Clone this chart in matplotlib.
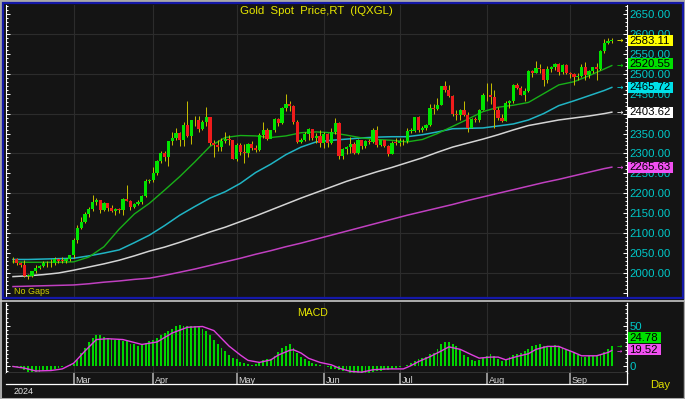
import numpy as np
import pandas as pd
import matplotlib
matplotlib.use("Agg")
import matplotlib.pyplot as plt
import matplotlib.transforms as mtrans
from matplotlib.lines import Line2D
from matplotlib.patches import Rectangle
from matplotlib.ticker import FixedLocator, MultipleLocator, FuncFormatter, NullFormatter

W, H = 685, 399
plt.rcParams['font.family'] = ['Liberation Sans', 'DejaVu Sans']

# trading days, weekends removed ("No Gaps")
dates = pd.bdate_range('2024-02-08', '2024-09-17')

first_open = 2035
closes = [2034, 2024, 2020, 1992, 1992, 2004, 2013, 2018, 2024, 2026, 2024, 2035, 2031, 2030, 2034, 2044,
          2083, 2114, 2128, 2148, 2160, 2178, 2182, 2158, 2175, 2162, 2155, 2160, 2157, 2186, 2181, 2165,
          2172, 2178, 2194, 2230, 2233, 2250, 2280, 2300, 2290, 2330, 2339, 2352, 2333, 2372, 2344, 2383,
          2383, 2361, 2379, 2392, 2327, 2322, 2316, 2332, 2337, 2335, 2286, 2320, 2303, 2301, 2323, 2314,
          2309, 2346, 2360, 2336, 2358, 2386, 2376, 2414, 2425, 2420, 2379, 2329, 2334, 2350, 2361, 2338,
          2343, 2327, 2350, 2327, 2355, 2376, 2294, 2310, 2316, 2324, 2302, 2333, 2319, 2330, 2328, 2360,
          2322, 2334, 2319, 2298, 2327, 2326, 2332, 2330, 2356, 2356, 2392, 2359, 2364, 2371, 2415, 2411,
          2422, 2469, 2459, 2445, 2400, 2396, 2409, 2397, 2364, 2387, 2384, 2410, 2447, 2446, 2442, 2410,
          2390, 2382, 2427, 2431, 2472, 2465, 2447, 2456, 2507, 2503, 2514, 2512, 2485, 2512, 2518, 2525,
          2504, 2521, 2503, 2499, 2493, 2495, 2516, 2497, 2506, 2516, 2512, 2558, 2578, 2582, 2583.11]
highs = [2040, 2038, 2027, 2032, 1998, 2006, 2021, 2021, 2031, 2030, 2035, 2041, 2038, 2040, 2038, 2046,
         2088, 2120, 2141, 2153, 2165, 2195, 2189, 2184, 2177, 2174, 2170, 2164, 2163, 2187, 2222, 2183,
         2176, 2184, 2196, 2236, 2236, 2266, 2283, 2305, 2305, 2331, 2354, 2365, 2355, 2378, 2431, 2384,
         2393, 2393, 2385, 2417, 2392, 2335, 2334, 2338, 2353, 2346, 2335, 2326, 2326, 2323, 2326, 2331,
         2320, 2351, 2378, 2364, 2360, 2390, 2388, 2417, 2450, 2432, 2422, 2384, 2339, 2355, 2364, 2361,
         2351, 2360, 2354, 2351, 2364, 2388, 2379, 2314, 2318, 2342, 2328, 2336, 2334, 2333, 2337, 2365,
         2369, 2335, 2335, 2321, 2330, 2339, 2339, 2337, 2364, 2363, 2392, 2393, 2368, 2373, 2424, 2424,
         2440, 2470, 2483, 2471, 2446, 2408, 2412, 2431, 2404, 2390, 2392, 2412, 2451, 2477, 2477, 2460,
         2417, 2400, 2431, 2434, 2475, 2477, 2468, 2463, 2509, 2510, 2531, 2525, 2510, 2519, 2520, 2528,
         2526, 2525, 2524, 2505, 2502, 2503, 2524, 2529, 2509, 2518, 2528, 2560, 2586, 2590, 2589]
lows = [2025, 2021, 2016, 1990, 1984, 1989, 1999, 2011, 2016, 2016, 2015, 2021, 2026, 2025, 2024, 2030,
        2038, 2076, 2110, 2125, 2140, 2155, 2171, 2150, 2156, 2155, 2154, 2146, 2150, 2146, 2180, 2157,
        2162, 2170, 2173, 2191, 2227, 2229, 2245, 2277, 2282, 2268, 2321, 2334, 2319, 2319, 2342, 2324,
        2369, 2355, 2358, 2368, 2321, 2291, 2307, 2305, 2325, 2322, 2285, 2281, 2295, 2277, 2292, 2309,
        2303, 2306, 2339, 2334, 2338, 2353, 2370, 2374, 2406, 2407, 2374, 2325, 2326, 2330, 2335, 2334,
        2326, 2316, 2314, 2315, 2323, 2349, 2287, 2286, 2298, 2302, 2299, 2299, 2311, 2313, 2323, 2327,
        2317, 2318, 2316, 2293, 2298, 2320, 2318, 2320, 2326, 2351, 2353, 2353, 2353, 2359, 2369, 2398,
        2409, 2421, 2455, 2441, 2393, 2384, 2385, 2394, 2353, 2364, 2379, 2380, 2409, 2432, 2425, 2364,
        2385, 2380, 2381, 2415, 2427, 2462, 2446, 2431, 2455, 2492, 2502, 2502, 2470, 2478, 2505, 2510,
        2497, 2500, 2500, 2490, 2472, 2484, 2493, 2485, 2490, 2501, 2485, 2510, 2553, 2574, 2577]

# moving averages, every 4th bar
ma_idx = list(range(0, 157, 4)) + [158]
ma20 = [2028, 2027, 2027, 2027, 2028, 2040, 2066, 2110, 2148, 2175, 2208, 2242, 2279, 2318, 2340, 2345,
        2344, 2340, 2344, 2352, 2354, 2352, 2346, 2339, 2335, 2333, 2329, 2335, 2350, 2368, 2386, 2405,
        2416, 2421, 2428, 2450, 2472, 2480, 2495, 2512, 2520.55]
ma50 = [2034, 2034, 2035, 2036, 2037, 2043, 2050, 2058, 2076, 2095, 2119, 2145, 2167, 2188, 2204, 2225,
        2252, 2273, 2297, 2316, 2329, 2333, 2336, 2339, 2341, 2342, 2342, 2347, 2354, 2362, 2363, 2364,
        2369, 2374, 2384, 2400, 2420, 2432, 2445, 2458, 2465.72]
ma100 = [1991, 1993, 1996, 2000, 2007, 2015, 2023, 2032, 2043, 2055, 2065, 2077, 2090, 2103, 2115, 2129,
         2143, 2158, 2173, 2188, 2202, 2216, 2230, 2242, 2254, 2265, 2277, 2289, 2303, 2316, 2326, 2336,
         2347, 2359, 2370, 2377, 2384, 2389, 2394, 2400, 2403.62]
ma200 = [1966, 1967, 1968, 1969, 1970, 1973, 1977, 1980, 1984, 1987, 1994, 2002, 2010, 2019, 2028, 2037,
         2047, 2056, 2066, 2075, 2085, 2095, 2105, 2115, 2125, 2135, 2145, 2154, 2163, 2172, 2182, 2191,
         2200, 2209, 2218, 2227, 2235, 2244, 2253, 2262, 2265.63]

macd = [-0.5, -1, -2, -4, -6.5, -7, -7, -6.5, -6, -5, -4, -3, -1.5, -0.5, 0.5, 1.5,
        3, 8, 17, 23, 30, 35, 39, 38, 36, 35, 34, 33, 32, 31, 31, 27,
        28, 25, 26.5, 29, 31, 32, 35, 38, 41, 44, 46, 50, 51, 50, 49, 49,
        49, 49, 46, 43, 38, 33, 27, 23, 19.5, 14, 10, 9, 5, 4, 3, 2,
        3, 5.5, 7.5, 9, 9.5, 13, 18, 22.5, 25, 27, 22.5, 16, 11.5, 9, 7, 4.5,
        3, 2, 1, -1, -2.5, -3.5, -4.5, -6, -6, -7.4, -7.4, -7.4, -7.4, -7.4, -7.4, -7,
        -6, -5.5, -4.8, -3.8, -2.8, -1.8, -0.3, 0.8, 2, 4.5, 7, 9.5, 10, 11.5, 15, 17,
        21.5, 27, 30.5, 30.5, 27.5, 24.5, 21, 14, 11, 7.5, 7, 7.5, 10, 13, 15.5, 13,
        9, 7, 7.5, 11.5, 14, 15.6, 16, 18.5, 21.5, 24.5, 26.5, 28, 25.5, 25.5, 25.5, 26.5,
        24.5, 23, 21, 19, 16.4, 14.4, 12, 11.5, 13, 12.5, 13, 15, 17.5, 21, 24.78]
sig_idx = [0, 3, 6, 10, 13, 16, 19, 22, 25, 29, 34, 38, 42, 46, 50, 53, 57, 60, 62, 65, 68, 70, 73, 74,
           76, 78, 81, 84, 86, 89, 92, 95, 99, 103, 105, 107, 110, 113, 115, 118, 121, 123, 126, 128,
           130, 133, 136, 138, 141, 144, 145, 148, 150, 154, 157, 158]
sig_val = [0, -2, -5.5, -5, -3, 4, 19, 33, 34, 33, 27, 30, 41, 48, 49, 44, 25, 14, 7.5, 5, 8, 14, 19.8, 20.5,
           16.5, 10, 5, 2, -2, -6, -7, -4, -3, -3, 1, 6, 12, 19, 24, 21, 14.4, 10.2, 11.5, 11.5,
           8.2, 12.3, 15.6, 21, 24.6, 24.6, 22.6, 17.2, 13.1, 13.1, 17.2, 19.52]

BG = '#141414'
GRID = '#2c2c2c'
CYAN_TXT = '#00c8c8'
YEL = '#e8e800'


def fx(px):
    return px / W


def fy(py):
    return 1 - py / H


fig = plt.figure(figsize=(W / 100, H / 100), dpi=100, facecolor=BG)

x = np.arange(len(closes))
c = np.array(closes, dtype=float)
o = np.r_[first_open, c[:-1]]
up = c >= o
body = np.maximum(np.abs(c - o), 1.8)

month_pos = [i for i in range(1, len(dates)) if dates[i].month != dates[i - 1].month]
month_lab = [dates[i].strftime('%b') for i in month_pos]

bar_px = 3.79
x_lo = -(13 - 6) / bar_px
x_hi = (626.7 - 13) / bar_px

# ---------------- price panel
ax = fig.add_axes([fx(6), fy(297), (626.7 - 6) / W, 292 / H], facecolor=BG)
ylo, yhi = 1939.8, 2672.5
ax.set_xlim(x_lo, x_hi)
ax.set_ylim(ylo, yhi)
for v in range(2000, 2700, 100):
    ax.axhline(v, color=GRID, lw=0.8, zorder=0)
for m in month_pos:
    ax.axvline(m, color=GRID, lw=0.8, zorder=0)

ax.plot(ma_idx, ma200, color='#c040c0', lw=1.1, zorder=2)
ax.plot(ma_idx, ma100, color='#d4d4d4', lw=1.1, zorder=2)
ax.plot(ma_idx, ma50, color='#20b4c4', lw=1.1, zorder=2)
ax.plot(ma_idx, ma20, color='#18b018', lw=1.0, zorder=2)

ax.vlines(x, lows, highs, color='#c8c000', lw=0.7, zorder=3)
ax.bar(x[up], body[up], bottom=o[up], width=0.86, color='#00e400', zorder=4)
ax.bar(x[~up], body[~up], bottom=c[~up], width=0.86, color='#f01c1c', zorder=4)

for s in ['top', 'bottom']:
    ax.spines[s].set_visible(False)
for s in ['left', 'right']:
    ax.spines[s].set_color('white')
    ax.spines[s].set_linewidth(0.8)
ax.set_xticks([])
ax.yaxis.set_major_locator(FixedLocator(list(range(1950, 2700, 50))))
ax.yaxis.set_minor_locator(MultipleLocator(10))
# 2400.00 sits fully under the 100-day badge in the reference
ax.yaxis.set_major_formatter(FuncFormatter(lambda v, p: f'{v:.2f}' if v >= 2000 and v != 2400 else ''))
ax.yaxis.set_minor_formatter(NullFormatter())
ax.tick_params(axis='y', which='both', direction='in', left=True, right=True,
               labelleft=False, labelright=True, colors='white', width=0.7)
ax.tick_params(axis='y', which='major', length=3, pad=1.9, labelcolor=CYAN_TXT, labelsize=8.2)
ax.tick_params(axis='y', which='minor', length=1.5)

# ---------------- MACD panel
ax2 = fig.add_axes([fx(6), fy(373), (626.7 - 6) / W, 70 / H], facecolor=BG)
ax2.set_xlim(x_lo, x_hi)
ax2.set_ylim(-8, 77.8)
ax2.axhline(40, color=GRID, lw=0.8, zorder=0)
for m in month_pos:
    ax2.axvline(m, color=GRID, lw=0.8, zorder=0)
ax2.bar(x, macd, width=0.5, color='#00d400', zorder=3)
ax2.plot(sig_idx, sig_val, color='#e040e0', lw=1.0, zorder=4)
ax2.spines['top'].set_visible(False)
for s in ['left', 'right', 'bottom']:
    ax2.spines[s].set_color('white')
    ax2.spines[s].set_linewidth(0.9)
ax2.set_xticks([])
ax2.yaxis.set_major_locator(FixedLocator([0, 50]))
ax2.yaxis.set_minor_locator(MultipleLocator(5))
ax2.yaxis.set_minor_formatter(NullFormatter())
ax2.yaxis.set_major_formatter(FuncFormatter(lambda v, p: f'{v:.0f}'))
ax2.tick_params(axis='y', which='both', direction='in', left=True, right=True,
                labelleft=False, labelright=True, colors='white', width=0.7)
ax2.tick_params(axis='y', which='major', length=3, pad=1.9, labelcolor=CYAN_TXT, labelsize=8.2)
ax2.tick_params(axis='y', which='minor', length=1.5)
fig.text(fx(313), fy(316), 'MACD', color=YEL, fontsize=7.6, ha='center', va='baseline')

# ---------------- date band
ax3 = fig.add_axes([fx(6), fy(384), (626.7 - 6) / W, 11 / H], facecolor=BG)
ax3.set_xlim(x_lo, x_hi)
ax3.set_ylim(0, 1)
ax3.set_xticks([])
ax3.set_yticks([])
for s in ['top', 'left']:
    ax3.spines[s].set_visible(False)
for s in ['bottom', 'right']:
    ax3.spines[s].set_color('white')
    ax3.spines[s].set_linewidth(0.9)
for m, lab in zip(month_pos, month_lab):
    ax3.axvline(m, color='#a8a8a8', lw=1.2)
    ax3.text(m + 0.5, 0.08, lab, color='#d8d8d8', fontsize=6.5, ha='left', va='baseline', clip_on=True)

fig.text(fx(14), fy(394), '2024', color='#e0e0e0', fontsize=6.5, ha='left', va='baseline')
fig.text(fx(650), fy(387.5), 'Day', color='#e0e000', fontsize=8.1, ha='left', va='baseline')
fig.text(fx(14), fy(293.5), 'No Gaps', color='#d0d000', fontsize=6.5, ha='left', va='baseline')
fig.text(fx(316), fy(14), 'Gold  Spot  Price,RT  (IQXGL)', color=YEL, fontsize=8.2,
         ha='center', va='baseline')


# value badges on the right scale
def badge(axis, val, label, fc, px_unit, width_px, center=None, arrow_size=5.5):
    tr = mtrans.blended_transform_factory(fig.transFigure, axis.transData)
    cy = val if center is None else center
    h = 11 / px_unit
    axis.add_artist(Rectangle((fx(628), cy - h / 2), width_px / W, h, transform=tr,
                              facecolor=fc, edgecolor='none', clip_on=False, zorder=6))
    axis.text(fx(629.5), cy, label, transform=tr, ha='left', va='center', fontsize=8.2,
              color='black', clip_on=False, zorder=7)
    axis.text(fx(617), val, '\u2192', transform=tr, ha='left', va='center', fontsize=arrow_size,
              color=fc, family='DejaVu Sans', clip_on=False, zorder=7)


pu = 292 / (yhi - ylo)
badge(ax, closes[-1], f'{closes[-1]:.2f}', '#ffff00', pu, 45)
badge(ax, ma20[-1], f'{ma20[-1]:.2f}', '#00e000', pu, 45, center=2525)
badge(ax, ma50[-1], f'{ma50[-1]:.2f}', '#00e0e8', pu, 45)
badge(ax, ma100[-1], f'{ma100[-1]:.2f}', '#ffffff', pu, 45)
badge(ax, ma200[-1], f'{ma200[-1]:.2f}', '#f050f0', pu, 45)

pu2 = 70 / (77.8 + 8)
badge(ax2, macd[-1], f'{macd[-1]:.2f}', '#00e000', pu2, 33, center=35.5, arrow_size=4.5)
badge(ax2, sig_val[-1], f'{sig_val[-1]:.2f}', '#f050f0', pu2, 33, center=20.5, arrow_size=4.5)

# window frame
fig.add_artist(Rectangle((0, 0), 1, 1, transform=fig.transFigure, fill=False,
                         edgecolor='#a8a8a8', lw=2.2))
fig.add_artist(Rectangle((fx(2.5), fy(297.5)), fx(680), 295 / H, transform=fig.transFigure,
                         fill=False, edgecolor='#1418a8', lw=1.6))
fig.add_artist(Line2D([0, 1], [fy(300.5), fy(300.5)], color='#c8c8c8', lw=1.2))
fig.add_artist(Line2D([fx(683.5), fx(683.5)], [fy(300.5), 0], color='#a8a8a8', lw=1.0))

fig.savefig('out.png', dpi=100, facecolor=BG)
